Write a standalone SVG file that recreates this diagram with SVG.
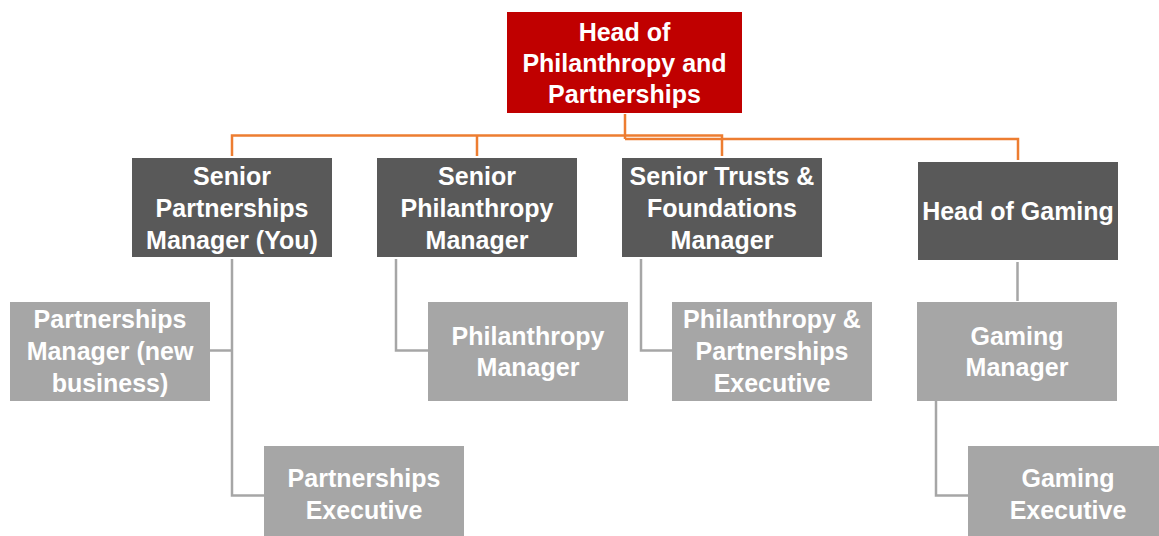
<svg xmlns="http://www.w3.org/2000/svg" width="1159" height="536" viewBox="0 0 1159 536">
<style>
  text { font-family: "Liberation Sans", Arial, sans-serif; font-weight: bold; font-size: 25px; fill: #FFFFFF; text-anchor: middle; }
  .top { fill: #C00000; }
  .mid { fill: #595959; }
  .low { fill: #A6A6A6; }
  .orange { fill: none; stroke: #ED7D31; stroke-width: 2.5; }
  .grey { fill: none; stroke: #A6A6A6; stroke-width: 2.5; }
</style>
<rect width="1159" height="536" fill="#FFFFFF"/>
<g id="connectors">
  <path class="orange" d="M625 114 V139 M232 156 V135.5 H722 V156 M477 156 V135.5 M625 139 H1018 V160"/>
  <path class="grey" d="M232 259 V495.5 H264 M232 350.5 H210"/>
  <path class="grey" d="M396 259 V350.5 H428"/>
  <path class="grey" d="M641 259 V350.5 H672"/>
  <path class="grey" d="M1017.5 262 V301"/>
  <path class="grey" d="M936 401 V495.5 H968"/>
</g>
<g id="head">
  <rect class="top" x="507" y="12" width="235" height="101"/>
  <text x="624.5" y="40.5">Head of</text>
  <text x="624.5" y="71.5">Philanthropy and</text>
  <text x="624.5" y="102.5">Partnerships</text>
</g>
<g id="senior-partnerships">
  <rect class="mid" x="132" y="158" width="200" height="99"/>
  <text x="232" y="185">Senior</text>
  <text x="232" y="217">Partnerships</text>
  <text x="232" y="249">Manager (You)</text>
</g>
<g id="senior-philanthropy">
  <rect class="mid" x="377" y="158" width="200" height="99"/>
  <text x="477" y="185">Senior</text>
  <text x="477" y="217">Philanthropy</text>
  <text x="477" y="249">Manager</text>
</g>
<g id="senior-trusts">
  <rect class="mid" x="622" y="158" width="200" height="99"/>
  <text x="722" y="185">Senior Trusts &amp;</text>
  <text x="722" y="217">Foundations</text>
  <text x="722" y="249">Manager</text>
</g>
<g id="head-gaming">
  <rect class="mid" x="918" y="162" width="200" height="98"/>
  <text x="1018" y="220">Head of Gaming</text>
</g>
<g id="partnerships-manager">
  <rect class="low" x="10" y="302" width="200" height="99"/>
  <text x="110" y="328">Partnerships</text>
  <text x="110" y="360">Manager (new</text>
  <text x="110" y="392">business)</text>
</g>
<g id="partnerships-executive">
  <rect class="low" x="264" y="446" width="200" height="99"/>
  <text x="364" y="487">Partnerships</text>
  <text x="364" y="519">Executive</text>
</g>
<g id="philanthropy-manager">
  <rect class="low" x="428" y="302" width="200" height="99"/>
  <text x="528" y="344.5">Philanthropy</text>
  <text x="528" y="375.5">Manager</text>
</g>
<g id="pp-executive">
  <rect class="low" x="672" y="302" width="200" height="99"/>
  <text x="772" y="328">Philanthropy &amp;</text>
  <text x="772" y="360">Partnerships</text>
  <text x="772" y="392">Executive</text>
</g>
<g id="gaming-manager">
  <rect class="low" x="917" y="302" width="200" height="99"/>
  <text x="1017" y="344.5">Gaming</text>
  <text x="1017" y="375.5">Manager</text>
</g>
<g id="gaming-executive">
  <rect class="low" x="968" y="446" width="200" height="99"/>
  <text x="1068" y="487">Gaming</text>
  <text x="1068" y="519">Executive</text>
</g>
</svg>
